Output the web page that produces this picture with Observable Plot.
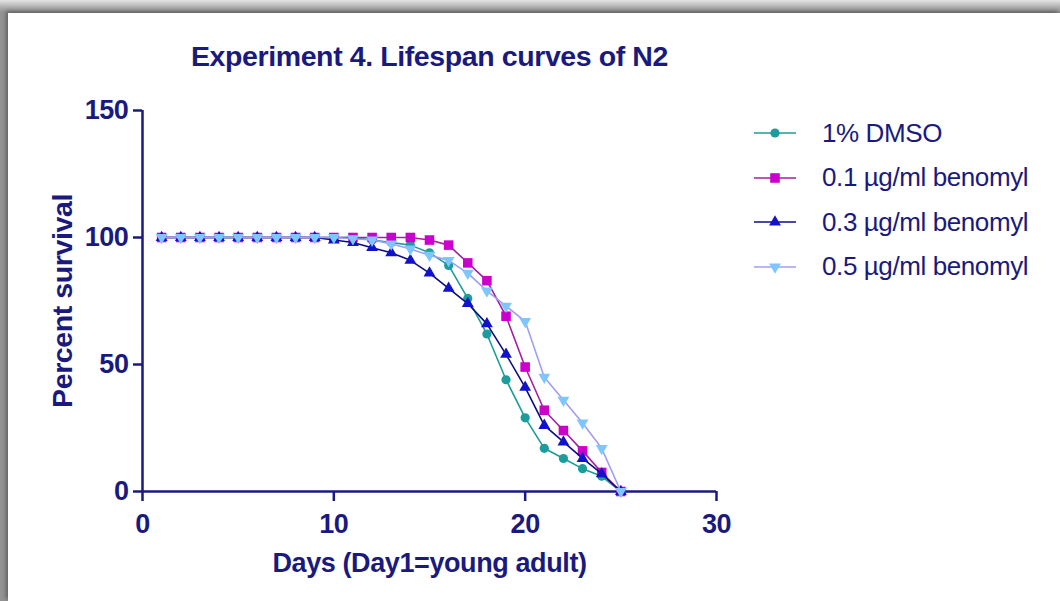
<!DOCTYPE html>
<html><head><meta charset="utf-8">
<script src="https://cdn.jsdelivr.net/npm/d3@7"></script>
<script src="https://cdn.jsdelivr.net/npm/@observablehq/plot@0.6"></script>
<style>
html,body{margin:0;padding:0;width:1060px;height:601px;overflow:hidden;background:#fff;}
#frame{position:absolute;left:0;top:0;width:1060px;height:601px;background:linear-gradient(to bottom,#e4e4e4 0px,#b0b0b0 7px,#939393 12px,#939393 100%);}
#panel{position:absolute;left:8px;top:13px;width:1052px;height:588px;background:#fff;box-shadow:-2px -2px 4px rgba(0,0,0,0.35);}
#chart{position:absolute;left:0;top:0;}
#chart svg text{letter-spacing:-0.4px;}
#legend{position:absolute;left:752px;top:111px;font-family:"Liberation Sans",Arial,sans-serif;font-size:26px;color:#1a1a7e;letter-spacing:-0.4px;}
.row{display:flex;align-items:center;height:44.5px;white-space:nowrap;}
.row svg{margin-right:24px;}
</style></head>
<body>
<div id="frame"></div>
<div id="panel"></div>
<div id="chart"></div>
<div id="legend"></div>
<script>
const days   = [1,2,3,4,5,6,7,8,9,10,11,12,13,14,15,16,17,18,19,20,21,22,23,24,25];
const dmso   = [100,100,100,100,100,100,100,100,100,100,100,99,98,97,94,89,76,62,44,29,17,13,9,6,0];
const ben01  = [100,100,100,100,100,100,100,100,100,100,100,100,100,100,99,97,90,83,69,49,32,24,16,7.5,0];
const ben03  = [100,100,100,100,100,100,100,100,100,99,98,96,94,91,86,80,74,66,54,41,26,19.5,13,7,0];
const ben05  = [100,100,100,100,100,100,100,100,100,100,99.5,99,97.5,95.5,93,91,86,79,73,67,45,36,27,17,0];
const seriesNames = ["1% DMSO","0.1 µg/ml benomyl","0.3 µg/ml benomyl","0.5 µg/ml benomyl"];
const xTicks = [0,10,20,30];
const yTicks = [0,50,100,150];
const titleText = "Experiment 4. Lifespan curves of N2";
const xLabel = "Days (Day1=young adult)";
const yLabel = "Percent survival";

const navy = "#1a1a7e";
const styles = [
  {line:"#1c9c9a", fill:"#1c9c9a", symbol:"circle", r:4.6, rotate:0},
  {line:"#a3209f", fill:"#cc00cc", symbol:"square", r:5.4, rotate:0},
  {line:"#0c0c82", fill:"#1212cc", symbol:"triangle", r:4.4, rotate:0},
  {line:"#9f9ff2", fill:"#7fc6ff", symbol:"triangle", r:4.4, rotate:180}
];
const values = [dmso, ben01, ben03, ben05];
const table = seriesNames.map((name,i)=>days.map((d,j)=>({series:name, day:d, value:values[i][j]})));

const marks = [
  Plot.axisX({ticks:xTicks, tickSize:10, tickPadding:12, fontSize:27, fontWeight:"bold", color:navy, strokeWidth:2.5, label:null}),
  Plot.axisY({ticks:yTicks, tickSize:9, tickPadding:5, fontSize:27, fontWeight:"bold", color:navy, strokeWidth:2.5, label:null}),
  Plot.ruleX([0], {stroke:navy, strokeWidth:2.5}),
  Plot.ruleY([0], {stroke:navy, strokeWidth:2.5})
];
table.forEach((rows,i)=>{
  const s = styles[i];
  marks.push(Plot.line(rows, {x:"day", y:"value", stroke:s.line, strokeWidth:1.6}));
  marks.push(Plot.dot(rows, {x:"day", y:"value", symbol:s.symbol, r:s.r, fill:s.fill, stroke:"none", rotate:s.rotate}));
});
marks.push(Plot.text([titleText], {frameAnchor:"top", dy:-54, lineAnchor:"middle", textAnchor:"middle", fontSize:28.5, fontWeight:"bold", fill:navy}));
marks.push(Plot.text([xLabel], {frameAnchor:"bottom", dy:72, lineAnchor:"middle", textAnchor:"middle", fontSize:27, fontWeight:"bold", fill:navy}));
marks.push(Plot.text([yLabel], {frameAnchor:"left", dx:-80, rotate:-90, lineAnchor:"middle", textAnchor:"middle", fontSize:28.5, fontWeight:"bold", fill:navy}));

const chart = Plot.plot({
  width:1060, height:601,
  marginLeft:142, marginRight:344, marginTop:110, marginBottom:110,
  style:{background:"transparent", fontFamily:"'Liberation Sans', Arial, sans-serif", overflow:"visible"},
  x:{domain:[0,30]},
  y:{domain:[0,150]},
  marks
});
document.getElementById("chart").appendChild(chart);

// legend
const leg = document.getElementById("legend");
seriesNames.forEach((name,i)=>{
  const s = styles[i];
  const row = document.createElement("div");
  row.className = "row";
  const svg = d3.create("svg").attr("width",46).attr("height",20);
  svg.append("line").attr("x1",2).attr("x2",44).attr("y1",10).attr("y2",10).attr("stroke",s.line).attr("stroke-width",1.6);
  const sym = {circle:d3.symbolCircle, square:d3.symbolSquare, triangle:d3.symbolTriangle}[s.symbol];
  svg.append("path").attr("d", d3.symbol(sym, Math.PI*s.r*s.r)()).attr("fill", s.fill)
     .attr("transform", `translate(23,10) rotate(${s.rotate})`);
  row.appendChild(svg.node());
  const span = document.createElement("span");
  span.textContent = name;
  row.appendChild(span);
  leg.appendChild(row);
});
</script>
</body></html>
